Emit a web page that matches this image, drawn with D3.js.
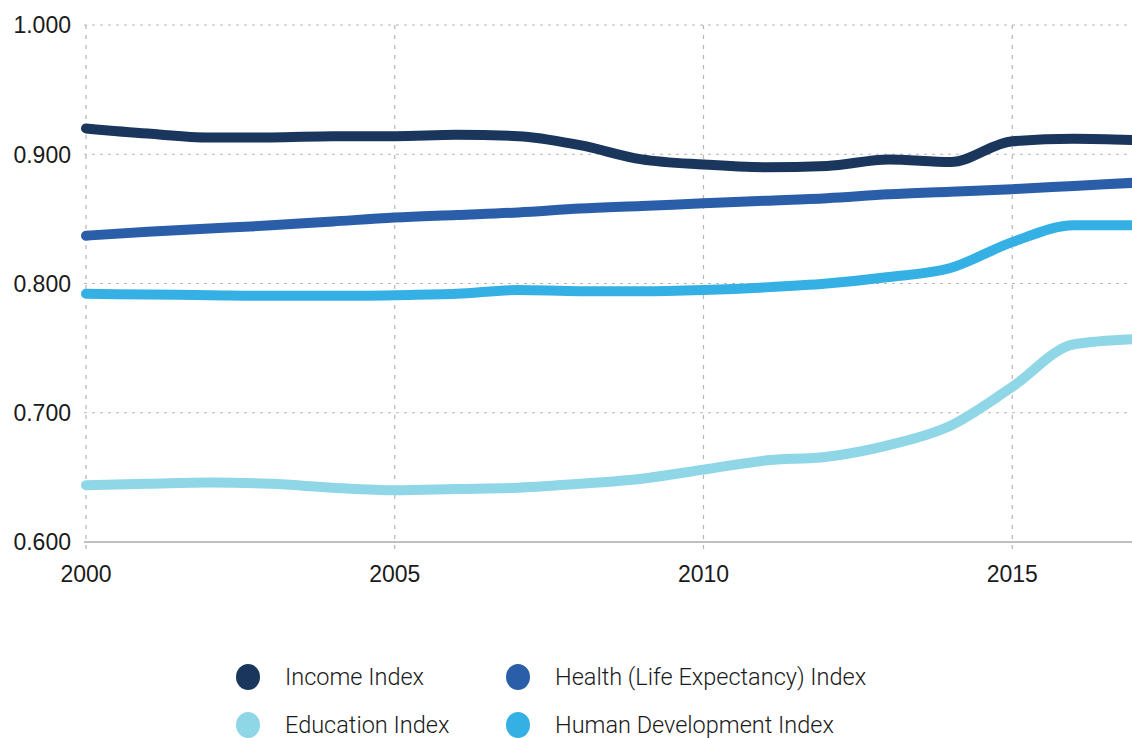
<!DOCTYPE html>
<html>
<head>
<meta charset="utf-8">
<script src="https://cdn.jsdelivr.net/npm/d3@7"></script>
<style>
  html, body { margin: 0; padding: 0; background: #fff; }
  svg { display: block; }
  text { fill: #1a1a1a; }
</style>
</head>
<body>
<svg id="chart" width="1132" height="738"></svg>
<script>
const years = [2000,2001,2002,2003,2004,2005,2006,2007,2008,2009,2010,2011,2012,2013,2014,2015,2016,2017];
const incomeIndex    = [0.920,0.916,0.913,0.913,0.914,0.914,0.915,0.914,0.907,0.896,0.892,0.890,0.891,0.896,0.894,0.910,0.912,0.911];
const healthIndex    = [0.837,0.840,0.8425,0.845,0.848,0.851,0.853,0.855,0.858,0.860,0.862,0.864,0.866,0.869,0.871,0.873,0.8755,0.878];
const educationIndex = [0.644,0.645,0.646,0.645,0.642,0.640,0.641,0.642,0.645,0.649,0.656,0.663,0.666,0.675,0.690,0.720,0.753,0.757];
const hdiIndex       = [0.792,0.7915,0.791,0.7905,0.7905,0.791,0.792,0.795,0.794,0.794,0.795,0.797,0.800,0.805,0.812,0.832,0.845,0.845];
const yTicks = [0.6,0.7,0.8,0.9,1.0];
const xTicks = [2000,2005,2010,2015];
const seriesNames = ["Income Index","Health (Life Expectancy) Index","Education Index","Human Development Index"];
const seriesColors = ["#1b365d","#2b5ea8","#8fd6e6","#34b0e4"];
const seriesValues = [incomeIndex, healthIndex, educationIndex, hdiIndex];

const svg = d3.select("#chart");
const x = d3.scaleLinear().domain([2000, 2017]).range([86, 86 + 17 * 61.75]);
const y = d3.scaleLinear().domain([0.6, 1.0]).range([542, 25]);

// horizontal grid
svg.append("g").selectAll("line").data(yTicks.filter(t => t > 0.6)).join("line")
  .attr("x1", 84).attr("x2", 1132)
  .attr("y1", d => y(d)).attr("y2", d => y(d))
  .attr("stroke", "#b5b5b5").attr("stroke-width", 1.2).attr("stroke-dasharray", "3,5");
// vertical grid
svg.append("g").selectAll("line").data(xTicks).join("line")
  .attr("x1", d => x(d)).attr("x2", d => x(d))
  .attr("y1", 25).attr("y2", 549)
  .attr("stroke", "#b5b5b5").attr("stroke-width", 1.2).attr("stroke-dasharray", "4,6");
// baseline
svg.append("line").attr("x1", 84).attr("x2", 1132).attr("y1", y(0.6)).attr("y2", y(0.6))
  .attr("stroke", "#c0c0c0").attr("stroke-width", 2);

// y labels
svg.append("g").selectAll("text").data(yTicks).join("text")
  .attr("x", 71).attr("y", d => y(d)).attr("dy", "0.36em")
  .attr("text-anchor", "end").attr("font-size", 23)
  .attr("font-family", "'Liberation Sans', Arial, sans-serif")
  .text(d => d3.format(".3f")(d));
// x labels
svg.append("g").selectAll("text").data(xTicks).join("text")
  .attr("x", d => x(d)).attr("y", 582)
  .attr("text-anchor", "middle").attr("font-size", 23)
  .attr("font-family", "'Liberation Sans', Arial, sans-serif")
  .text(d => d);

const line = d3.line().x((d, i) => x(years[i])).y(d => y(d)).curve(d3.curveMonotoneX);
const order = [2, 3, 1, 0];
order.forEach(k => {
  svg.append("path").datum(seriesValues[k])
    .attr("d", line)
    .attr("fill", "none")
    .attr("stroke", seriesColors[k])
    .attr("stroke-width", 10)
    .attr("stroke-linecap", "round")
    .attr("stroke-linejoin", "round");
});

// legend
const legendPos = [[248, 677], [518, 677], [248, 725], [518, 725]];
const legendTextX = [285, 555, 285, 555];
seriesNames.forEach((name, i) => {
  const [cx, cy] = legendPos[i];
  svg.append("ellipse").attr("cx", cx).attr("cy", cy).attr("rx", 12).attr("ry", 13)
    .attr("fill", seriesColors[i]);
  svg.append("text").attr("x", legendTextX[i]).attr("y", cy + 7.5)
    .attr("font-size", 23.5).attr("font-weight", 300)
    .attr("font-family", "Roboto, 'Liberation Sans', sans-serif")
    .text(name);
});
</script>
</body>
</html>
